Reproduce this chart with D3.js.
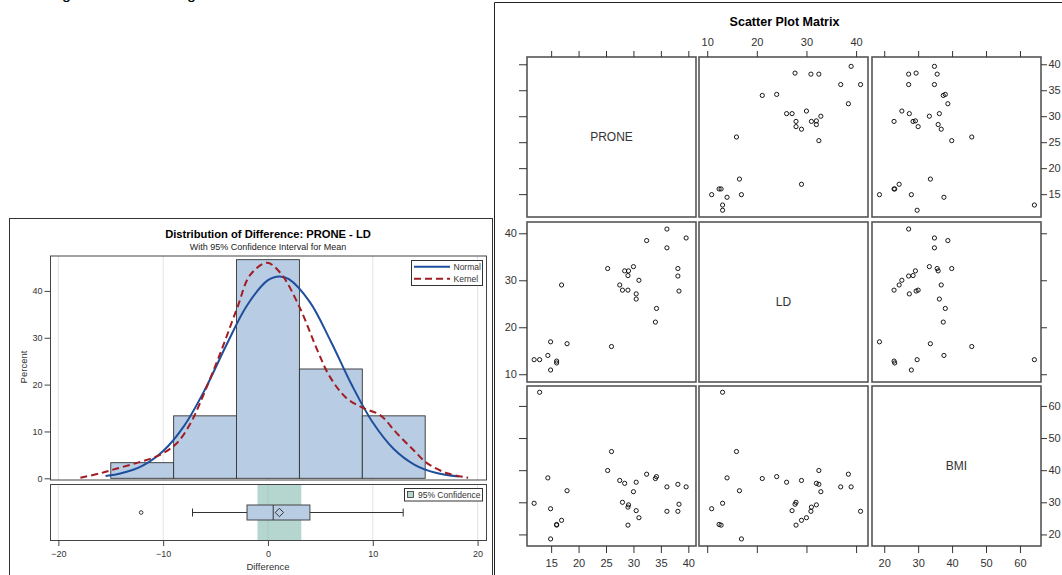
<!DOCTYPE html>
<html>
<head>
<meta charset="utf-8">
<script src="https://cdn.jsdelivr.net/npm/d3@7"></script>
<style>
body { margin: 0; background: #fff; }
text { font-family: "Liberation Sans", Arial, sans-serif; }
</style>
</head>
<body>
<svg id="chart" width="1062" height="575"></svg>
<script>
// values, one entry per subject (n = 30)
var prone = [11.9, 12.9, 14.9, 14.4, 14.9, 16.0, 16.0, 16.9, 17.9, 25.3, 26.0, 27.5, 28.0, 28.4, 29.1,
             29.0, 29.0, 30.0, 30.5, 30.5, 31.0, 32.4, 34.2, 34.0, 36.1, 36.1, 38.1, 38.1, 38.3, 39.6];
var ld    = [13.1, 13.1, 16.9, 14.0, 10.9, 12.8, 12.4, 29.0, 16.5, 32.5, 15.9, 29.0, 27.9, 32.0, 32.0,
             31.0, 27.9, 32.9, 27.1, 26.0, 30.0, 38.45, 24.0, 21.1, 40.9, 36.9, 32.5, 30.9, 27.7, 39.0];
var bmi   = [29.7, 64.25, 18.6, 37.6, 28.0, 22.9, 23.1, 24.4, 33.6, 39.9, 45.8, 36.8, 30.0, 35.9, 29.2,
             28.5, 22.9, 33.3, 27.4, 36.25, 25.2, 38.75, 38.0, 37.4, 27.2, 34.8, 35.6, 27.2, 29.4, 34.8];

// histogram bins of the difference
var histEdges = [-15, -9, -3, 3, 9, 15];

// fitted curves, percent
var normalX = [-15.5, -14, -12, -10, -8, -6, -4, -2, 0, 1.1, 2, 4, 6, 8, 10, 12, 14, 16, 18.2];
var normalY = [0.49, 1.07, 2.66, 5.83, 11.2, 19.0, 28.3, 36.9, 42.3, 43.1, 42.5, 37.6, 29.2, 19.9, 11.9, 6.26, 2.89, 1.17, 0.37];
var kernelX = [-17.9, -16.0, -14.4, -12.2, -10.3, -8.7, -7.4, -6.5, -4.55, -2.9, -1.7, -0.1, 1.2, 3.0, 4.7, 5.9, 7.5, 9.1, 10.7, 12.3, 13.9, 15.2, 17.1, 19.1];
var kernelY = [0.13, 1.07, 2.1, 3.5, 5.0, 7.5, 11.7, 16.0, 26.7, 36.6, 43.4, 46.0, 43.8, 36.6, 27.4, 21.7, 17.1, 15.0, 13.5, 9.6, 6.0, 3.2, 1.07, 0.13];

var histTicksX = [-20, -10, 0, 10, 20];
var histTicksY = [0, 10, 20, 30, 40];
var proneTicks = [15, 20, 25, 30, 35, 40];
var ldTicks = [10, 20, 30, 40];
var bmiTicks = [20, 30, 40, 50, 60];

var barFill = "#b8cce4";
var blue = "#1f4e9c";
var red = "#a11d24";

var svg = d3.select("#chart");

// clipped line of document text above the charts
svg.append("text").attr("x", 62).attr("y", -1.5).attr("font-size", 16).text("g");
svg.append("text").attr("x", 187).attr("y", -1.5).attr("font-size", 16).text("g");

// ---------- left: distribution of difference ----------
var diff = prone.map((p, k) => p - ld[k]);
var n = diff.length;

var left = svg.append("g");
left.append("rect")
  .attr("x", 9.5).attr("y", 218.5).attr("width", 483).attr("height", 400)
  .attr("fill", "#fff").attr("stroke", "#333");

left.append("text")
  .attr("x", 268).attr("y", 238)
  .attr("text-anchor", "middle").attr("font-size", 11.2).attr("font-weight", "bold")
  .text("Distribution of Difference: PRONE - LD");
left.append("text")
  .attr("x", 268).attr("y", 249.5)
  .attr("text-anchor", "middle").attr("font-size", 9).attr("fill", "#222")
  .text("With 95% Confidence Interval for Mean");

var x = d3.scaleLinear().domain([-20.75, 20.85]).range([50.5, 486.5]);
var y = d3.scaleLinear().domain([-0.36, 47.45]).range([480, 256]);
var boxTop = 484.5, boxBottom = 540.5;

// grid
[[256, 480], [boxTop, boxBottom]].forEach(function(r) {
  left.selectAll(null)
    .data(histTicksX)
    .enter()
    .append("line")
    .attr("x1", d => x(d)).attr("x2", d => x(d))
    .attr("y1", r[0]).attr("y2", r[1])
    .attr("stroke", "#e3e3e3");
});

// bars
var bins = d3.bin()
  .domain([histEdges[0], histEdges[histEdges.length - 1]])
  .thresholds(histEdges.slice(1, -1))(diff);
left.selectAll("rect.bar")
  .data(bins)
  .enter()
  .append("rect")
  .attr("class", "bar")
  .attr("x", d => x(d.x0))
  .attr("width", d => x(d.x1) - x(d.x0))
  .attr("y", d => y(d.length / n * 100))
  .attr("height", d => y(0) - y(d.length / n * 100))
  .attr("fill", barFill)
  .attr("stroke", "#333")
  .attr("stroke-width", 0.9);

// curves
var line = d3.line().x(d => x(d[0])).y(d => y(d[1])).curve(d3.curveCatmullRom.alpha(0.5));
left.append("path")
  .attr("d", line(normalX.map((v, k) => [v, normalY[k]])))
  .attr("fill", "none").attr("stroke", blue).attr("stroke-width", 2);
left.append("path")
  .attr("d", line(kernelX.map((v, k) => [v, kernelY[k]])))
  .attr("fill", "none").attr("stroke", red).attr("stroke-width", 2)
  .attr("stroke-dasharray", "7,4");

// frames
left.append("rect")
  .attr("x", 50.5).attr("y", 256).attr("width", 436).attr("height", 224)
  .attr("fill", "none").attr("stroke", "#444");
left.append("rect")
  .attr("x", 50.5).attr("y", boxTop).attr("width", 436).attr("height", boxBottom - boxTop)
  .attr("fill", "none").attr("stroke", "#444");

// y axis
left.append("g")
  .attr("transform", "translate(50.5,0)")
  .call(d3.axisLeft(y).tickValues(histTicksY).tickSize(6).tickPadding(2))
  .call(g => g.select(".domain").remove())
  .call(g => g.selectAll("text").attr("font-size", 9).attr("fill", "#333").attr("font-family", null))
  .call(g => g.selectAll("line").attr("stroke", "#444"));
left.append("text")
  .attr("transform", "translate(27,367) rotate(-90)")
  .attr("text-anchor", "middle").attr("font-size", 9.5).attr("fill", "#333")
  .text("Percent");

// legend
var lg = left.append("g");
lg.append("rect").attr("x", 411.5).attr("y", 260.5).attr("width", 71).attr("height", 25)
  .attr("fill", "#fff").attr("stroke", "#333");
lg.append("line").attr("x1", 414).attr("x2", 450).attr("y1", 266.7).attr("y2", 266.7)
  .attr("stroke", blue).attr("stroke-width", 2);
lg.append("line").attr("x1", 414).attr("x2", 450).attr("y1", 278.7).attr("y2", 278.7)
  .attr("stroke", red).attr("stroke-width", 2).attr("stroke-dasharray", "7,4");
lg.append("text").attr("x", 453.5).attr("y", 269.8).attr("font-size", 8.5).attr("fill", "#333").text("Normal");
lg.append("text").attr("x", 453.5).attr("y", 281.8).attr("font-size", 8.5).attr("fill", "#333").text("Kernel");

// box plot statistics (SAS definition 5 percentiles)
var sorted = diff.slice().sort(d3.ascending);
function pctl(p) {
  var np = n * p, j = Math.floor(np + 1e-9);
  if (Math.abs(np - j) < 1e-9) return (sorted[j - 1] + sorted[j]) / 2;
  return sorted[j];
}
var q1 = pctl(0.25), med = pctl(0.5), q3 = pctl(0.75);
var iqr = q3 - q1;
var inside = sorted.filter(v => v >= q1 - 1.5 * iqr - 1e-9 && v <= q3 + 1.5 * iqr + 1e-9);
var outliers = sorted.filter(v => inside.indexOf(v) < 0);
var mean = d3.mean(diff);
var half = 2.045 * d3.deviation(diff) / Math.sqrt(n);

// confidence band
left.append("rect")
  .attr("x", x(mean - half)).attr("width", x(mean + half) - x(mean - half))
  .attr("y", boxTop + 0.5).attr("height", boxBottom - boxTop - 1)
  .attr("fill", "#6bad9f").attr("opacity", 0.5);

var cy = 512.5;
left.append("line").attr("x1", x(inside[0])).attr("x2", x(q1)).attr("y1", cy).attr("y2", cy).attr("stroke", "#333");
left.append("line").attr("x1", x(q3)).attr("x2", x(inside[inside.length - 1])).attr("y1", cy).attr("y2", cy).attr("stroke", "#333");
[inside[0], inside[inside.length - 1]].forEach(function(v) {
  left.append("line").attr("x1", x(v)).attr("x2", x(v)).attr("y1", cy - 4).attr("y2", cy + 4).attr("stroke", "#333");
});
left.append("rect")
  .attr("x", x(q1)).attr("width", x(q3) - x(q1))
  .attr("y", 505).attr("height", 15)
  .attr("fill", barFill).attr("stroke", "#444");
left.append("line").attr("x1", x(med)).attr("x2", x(med)).attr("y1", 505).attr("y2", 520).attr("stroke", "#333");
left.append("path")
  .attr("d", `M${x(mean)},${cy - 4.2}L${x(mean) + 4.2},${cy}L${x(mean)},${cy + 4.2}L${x(mean) - 4.2},${cy}Z`)
  .attr("fill", "none").attr("stroke", "#333");
left.selectAll("circle.out")
  .data(outliers)
  .enter()
  .append("circle")
  .attr("class", "out")
  .attr("cx", d => x(d)).attr("cy", cy).attr("r", 1.8)
  .attr("fill", "none").attr("stroke", "#333");

// band legend
lg.append("rect").attr("x", 404.5).attr("y", 488.5).attr("width", 78).attr("height", 12.5)
  .attr("fill", "#fff").attr("stroke", "#333");
lg.append("rect").attr("x", 407.5).attr("y", 491.5).attr("width", 6).attr("height", 6)
  .attr("fill", "#b5d6cf").attr("stroke", "#333").attr("stroke-width", 0.8);
lg.append("text").attr("x", 418).attr("y", 498).attr("font-size", 8.5).attr("fill", "#333").text("95% Confidence");

// x axis
left.append("g")
  .attr("transform", `translate(0,${boxBottom})`)
  .call(d3.axisBottom(x).tickValues(histTicksX).tickSize(5.5).tickPadding(5))
  .call(g => g.select(".domain").remove())
  .call(g => g.selectAll("text").attr("font-size", 9).attr("fill", "#333").attr("font-family", null))
  .call(g => g.selectAll("line").attr("stroke", "#444"));
left.append("text")
  .attr("x", x(0)).attr("y", 569.5)
  .attr("text-anchor", "middle").attr("font-size", 9.5).attr("fill", "#333")
  .text("Difference");

// ---------- right: scatter plot matrix ----------
var right = svg.append("g");
right.append("path")
  .attr("d", "M494.5,620V2.5H1070")
  .attr("fill", "none").attr("stroke", "#222");
right.append("text")
  .attr("x", 784.5).attr("y", 26)
  .attr("text-anchor", "middle").attr("font-size", 12.5).attr("font-weight", "bold")
  .text("Scatter Plot Matrix");

var vars = [
  {name: "PRONE", values: prone, domain: [10.6, 41.4], ticks: proneTicks},
  {name: "LD", values: ld, domain: [8.35, 42.4], ticks: ldTicks},
  {name: "BMI", values: bmi, domain: [16.4, 66.2], ticks: bmiTicks}
];
var cellX = [527, 699, 872], cellY = [57, 222, 386];
var cw = 169, ch = 160;
var xs = vars.map((v, j) => d3.scaleLinear().domain(v.domain).range([cellX[j], cellX[j] + cw]));
var ys = vars.map((v, i) => d3.scaleLinear().domain(v.domain).range([cellY[i] + ch, cellY[i]]));

vars.forEach(function(vy, i) {
  vars.forEach(function(vx, j) {
    var cell = right.append("g");
    cell.append("rect")
      .attr("x", cellX[j]).attr("y", cellY[i]).attr("width", cw).attr("height", ch)
      .attr("fill", "#fff").attr("stroke", "#555").attr("stroke-width", 1.6);
    if (i === j) {
      cell.append("text")
        .attr("x", cellX[j] + cw / 2).attr("y", cellY[i] + ch / 2 + 4)
        .attr("text-anchor", "middle").attr("font-size", 12).attr("fill", "#333")
        .text(vx.name);
      return;
    }
    cell.selectAll("circle")
      .data(vx.values.map((v, k) => [v, vy.values[k]]))
      .enter()
      .append("circle")
      .attr("cx", d => xs[j](d[0]))
      .attr("cy", d => ys[i](d[1]))
      .attr("r", 2.1)
      .attr("fill", "none")
      .attr("stroke", "#000")
      .attr("stroke-width", 0.9);
  });
});

function styleAxis(g) {
  g.select(".domain").remove();
  g.selectAll("line").attr("stroke", "#333");
  g.selectAll("text").attr("font-size", 11).attr("fill", "#333").attr("font-family", null);
}
vars.forEach(function(v, k) {
  var fmt = d3.format("d");
  right.append("g")
    .attr("transform", `translate(0,${cellY[0]})`)
    .call(d3.axisTop(xs[k]).tickValues(v.ticks).tickSize(6).tickPadding(5).tickFormat(k === 1 ? fmt : ""))
    .call(styleAxis);
  right.append("g")
    .attr("transform", `translate(0,${cellY[2] + ch})`)
    .call(d3.axisBottom(xs[k]).tickValues(v.ticks).tickSize(7).tickPadding(6).tickFormat(k !== 1 ? fmt : ""))
    .call(styleAxis);
  right.append("g")
    .attr("transform", `translate(${cellX[0]},0)`)
    .call(d3.axisLeft(ys[k]).tickValues(v.ticks).tickSize(8).tickPadding(2).tickFormat(k === 1 ? fmt : ""))
    .call(styleAxis);
  right.append("g")
    .attr("transform", `translate(${cellX[2] + cw},0)`)
    .call(d3.axisRight(ys[k]).tickValues(v.ticks).tickSize(6).tickPadding(1.5).tickFormat(k !== 1 ? fmt : ""))
    .call(styleAxis);
});
</script>
</body>
</html>
